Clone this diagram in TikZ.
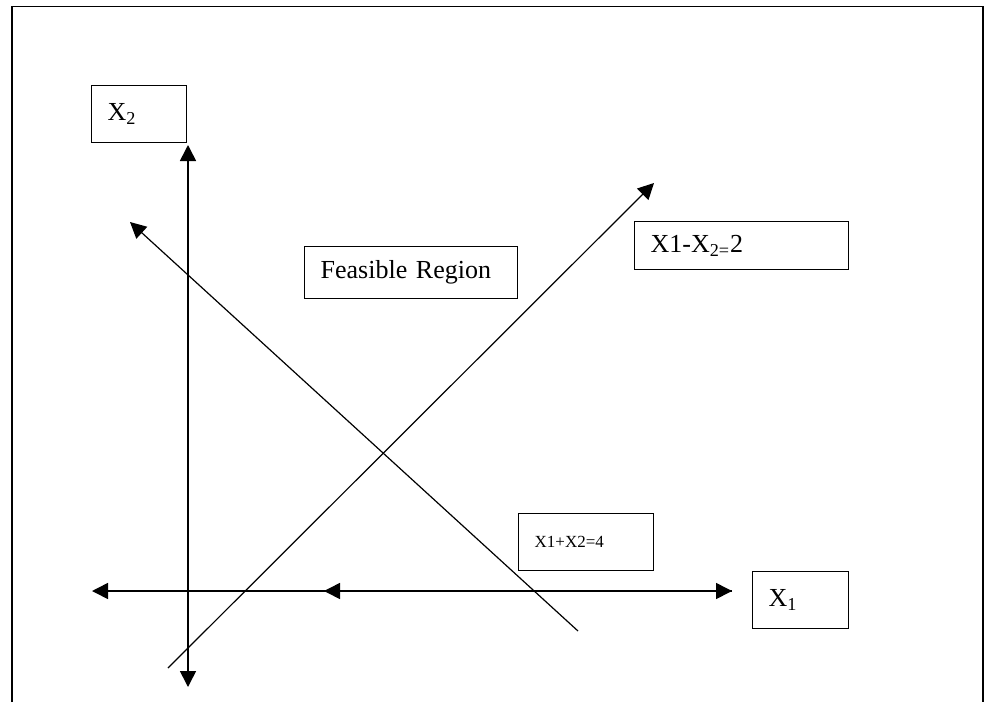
\documentclass[tikz,border=0pt]{standalone}
\usepackage{fontspec}
\setmainfont{Liberation Serif}
\usetikzlibrary{arrows.meta}

\tikzset{
  lbl/.style={draw, line width=0.65pt, anchor=north west, inner xsep=8pt, inner ysep=0pt, align=left, font=\fontsize{13}{15}\selectfont},
  axis/.style={line width=0.8pt, {Triangle[length=8pt,width=8pt]}-{Triangle[length=8pt,width=8pt]}},
  arr/.style={line width=0.6pt, -{Triangle[length=8pt,width=8pt]}}
}

\begin{document}
\begin{tikzpicture}[x=0.5pt, y=-0.5pt]
    \useasboundingbox (0,0) rectangle (984,702);
    % page frame
    \draw[line width=0.7pt] (12,702) -- (12,6.5) -- (983,6.5) -- (983,702);
    % label boxes
    \node[lbl, text width=31.5pt, minimum height=28.5pt] (x2box) at (91,85) {X\textsubscript{2}};
    \node[lbl, text width=90.5pt, minimum height=26pt] (feas) at (304,246) {Feasible Region};
    \node[lbl, text width=91pt, minimum height=24pt] (cone) at (634,221) {X1-X\textsubscript{2=}2};
    \node[lbl, text width=51.5pt, minimum height=28.5pt, font=\fontsize{8.5}{10}\selectfont] (ctwo) at (518,513) {X1+X2=4};
    \node[lbl, text width=32pt, minimum height=28.5pt] (x1box) at (752,571) {X\textsubscript{1}};
    % end points
    \coordinate (yt) at (188,145);
    \coordinate (yb) at (188,687);
    \coordinate (xl) at (92,591);
    \coordinate (xr) at (732,591);
    \coordinate (xm) at (324,591);
    \coordinate (la) at (168,668);
    \coordinate (lb) at (654,183);
    \coordinate (ma) at (578,631);
    \coordinate (mb) at (130,222);
    % axes
    \draw[axis] (yb) -- (yt);
    \draw[axis] (xl) -- (xr);
    \draw[arr, line width=0.8pt] (xr) -- (xm);
    % constraint lines
    \draw[arr] (la) -- (lb);
    \draw[arr] (ma) -- (mb);
\end{tikzpicture}
\end{document}
